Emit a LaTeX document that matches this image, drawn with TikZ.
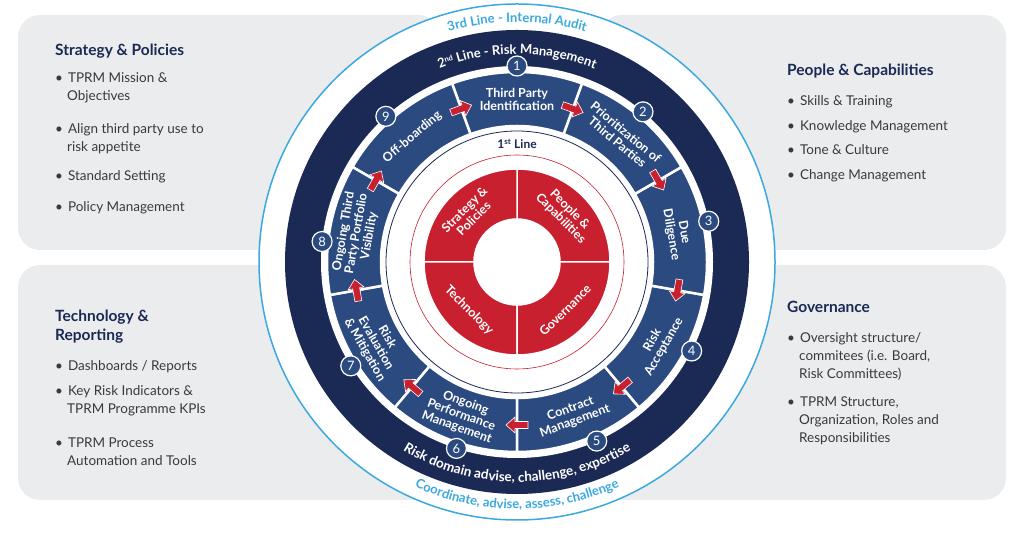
\documentclass[tikz,border=0pt]{standalone}
\usepackage{fontspec}
\setmainfont{Lato}
\usetikzlibrary{decorations.text,arrows.meta,calc}
\definecolor{navy}{HTML}{1B2A55}
\definecolor{segblue}{HTML}{2B4A80}
\definecolor{rred}{HTML}{C8202F}
\definecolor{lblue}{HTML}{3BA9E0}
\definecolor{panel}{HTML}{EBECED}
\definecolor{txt}{HTML}{3A3A3A}
\begin{document}
\begin{tikzpicture}[x=1pt,y=1pt,
  panelbox/.style={fill=panel,rounded corners=22pt},
  ttl/.style={anchor=north west,font=\fontsize{15.5}{18.5}\selectfont\bfseries,text=navy,align=left,inner sep=0},
  itm/.style={anchor=north west,font=\fontsize{13.5}{18}\selectfont,text=txt,align=left,inner sep=0},
  segtxt/.style={font=\fontsize{12.5}{13}\selectfont\bfseries,text=white,align=center,inner sep=0},
  redtxt/.style={font=\fontsize{12.5}{13}\selectfont\bfseries,text=white,align=center,inner sep=0},
  num/.style={circle,draw=white,fill=segblue,line width=1.2pt,minimum size=20pt,inner sep=0,text=white,font=\fontsize{13}{13}\selectfont},
  blockarrow/.style={fill=rred,draw=white,line width=0.6pt}
]
\useasboundingbox (0,0) rectangle (1024,537);
\coordinate (C) at (517,275);
% panels
\fill[panelbox] (18,287) rectangle (440,522);
\fill[panelbox] (600,287) rectangle (1006,522);
\fill[panelbox] (18,37) rectangle (440,272);
\fill[panelbox] (600,37) rectangle (1006,272);
% outer circle
\fill[white] (C) circle[radius=258pt];
\draw[lblue,line width=1.5pt] (C) circle[radius=258pt];
\fill[navy] (C) circle[radius=232pt];
\fill[white] (C) circle[radius=196pt];
% blue segments
\foreach \a in {-170,-130,-90,-50,-10,30,70,110,150}{
  \pgfmathsetmacro{\b}{\a+40}
  \fill[segblue,draw=white,line width=2.5pt] ([shift={(\a:190pt)}]C) arc[start angle=\a,end angle=\b,radius=190pt] -- ([shift={(\b:136pt)}]C) arc[start angle=\b,end angle=\a,radius=136pt] -- cycle;
}
\draw[navy,line width=0.8pt] (C) circle[radius=131pt];
\draw[rred,line width=0.6pt] (C) circle[radius=107pt];
% red ring
\foreach \a in {0,90,180,270}{
  \pgfmathsetmacro{\b}{\a+90}
  \fill[rred,draw=white,line width=1.5pt] ([shift={(\a:93pt)}]C) arc[start angle=\a,end angle=\b,radius=93pt] -- ([shift={(\b:43pt)}]C) arc[start angle=\b,end angle=\a,radius=43pt] -- cycle;
}
\node[redtxt,rotate=45] (rs) at ([shift={(135:68pt)}]C) {Strategy \&\\Policies};
\node[redtxt,rotate=-45] (rp) at ([shift={(45:68pt)}]C) {People \&\\Capabilities};
\node[redtxt,rotate=-45] (rt) at ([shift={(-135:68pt)}]C) {Technology};
\node[redtxt,rotate=45] (rg) at ([shift={(-45:68pt)}]C) {Governance};
\node[font=\fontsize{12}{12}\selectfont\bfseries,text=navy] (l1) at ([shift={(90:118pt)}]C) {1\textsuperscript{st} Line};
% segment labels
\node[segtxt] (s1) at ([shift={(90:163pt)}]C) {Third Party\\Identification};
\node[segtxt,rotate=-40] (s2) at ([shift={(50:163pt)}]C) {Prioritization of\\Third Parties};
\node[segtxt,rotate=-80] (s3) at ([shift={(10:163pt)}]C) {Due\\Diligence};
\node[segtxt,rotate=60] (s4) at ([shift={(-30:163pt)}]C) {Risk\\Acceptance};
\node[segtxt,rotate=20] (s5) at ([shift={(-70:163pt)}]C) {Contract\\Management};
\node[segtxt,rotate=-20] (s6) at ([shift={(-110:163pt)}]C) {Ongoing\\Performance\\Management};
\node[segtxt,rotate=-60] (s7) at ([shift={(-150:163pt)}]C) {Risk\\Evaluation\\\& Mitigation};
\node[segtxt,rotate=80] (s8) at ([shift={(170:163pt)}]C) {Ongoing Third\\Party Portfolio\\Visibility};
\node[segtxt,rotate=40] (s9) at ([shift={(130:163pt)}]C) {Off-boarding};
% numbers
\foreach \n/\a in {1/90,2/50,3/12,4/-27,5/-66,6/-108,7/-148,8/174,9/132}{
  \node[num] (n\n) at ([shift={(\a:196pt)}]C) {\n};
}
% red block arrows (clockwise, across separators)
\foreach \a in {70,30,-10,-50,-90,-130,-170,150,110}{
  \pgfmathsetmacro{\r}{\a-90}
  \begin{scope}[shift={($(C)+(\a:163pt)$)},rotate=\r]
    \filldraw[blockarrow] (-11,-3.5) -- (2,-3.5) -- (2,-8) -- (11,0) -- (2,8) -- (2,3.5) -- (-11,3.5) -- cycle;
  \end{scope}
}
% ring texts
\path[decorate,decoration={text along path,text align=center,text color=white,
  text={|\fontsize{13}{13}\selectfont\bfseries|2{\raisebox{4pt}{\fontsize{7.5}{7.5}\selectfont nd}} Line - Risk Management}}]
  ([shift={(145:208pt)}]C) arc[start angle=145,end angle=35,radius=208pt];
\path[decorate,decoration={text along path,text align=center,text color=white,
  text={|\fontsize{13.5}{13.5}\selectfont\bfseries|Risk domain advise, challenge, expertise}}]
  ([shift={(-145:220pt)}]C) arc[start angle=-145,end angle=-35,radius=220pt];
\path[decorate,decoration={text along path,text align=center,text color=lblue,
  text={|\fontsize{13}{13}\selectfont\bfseries|3rd Line - Internal Audit}}]
  ([shift={(125:240pt)}]C) arc[start angle=125,end angle=55,radius=240pt];
\path[decorate,decoration={text along path,text align=center,text color=lblue,
  text={|\fontsize{13}{13}\selectfont\bfseries|Coordinate, advise, assess, challenge}}]
  ([shift={(-130:247pt)}]C) arc[start angle=-130,end angle=-50,radius=247pt];
% panel texts
\node[ttl] (t1) at (55,493) {Strategy \& Policies};
\node[itm] (a1) at (55,465) {•\hspace{5pt}TPRM Mission \&\\\hspace{12pt}Objectives};
\node[itm] (a2) at (55,414) {•\hspace{5pt}Align third party use to\\\hspace{12pt}risk appetite};
\node[itm] (a3) at (55,367) {•\hspace{5pt}Standard Setting};
\node[itm] (a4) at (55,336) {•\hspace{5pt}Policy Management};
\node[ttl] (t2) at (787,473) {People \& Capabilities};
\node[itm] (b1) at (787,442) {•\hspace{5pt}Skills \& Training};
\node[itm] (b2) at (787,417) {•\hspace{5pt}Knowledge Management};
\node[itm] (b3) at (787,393) {•\hspace{5pt}Tone \& Culture};
\node[itm] (b4) at (787,368) {•\hspace{5pt}Change Management};
\node[ttl] (t3) at (55,227) {Technology \&\\Reporting};
\node[itm] (c1) at (55,177) {•\hspace{5pt}Dashboards / Reports};
\node[itm] (c2) at (55,152) {•\hspace{5pt}Key Risk Indicators \&\\\hspace{12pt}TPRM Programme KPIs};
\node[itm] (c3) at (55,99) {•\hspace{5pt}TPRM Process\\\hspace{12pt}Automation and Tools};
\node[ttl] (t4) at (787,236) {Governance};
\node[itm] (d1) at (787,205) {•\hspace{5pt}Oversight structure/\\\hspace{12pt}commitees (i.e. Board,\\\hspace{12pt}Risk Committees)};
\node[itm] (d2) at (787,140) {•\hspace{5pt}TPRM Structure,\\\hspace{12pt}Organization, Roles and\\\hspace{12pt}Responsibilities};
\end{tikzpicture}
\end{document}
